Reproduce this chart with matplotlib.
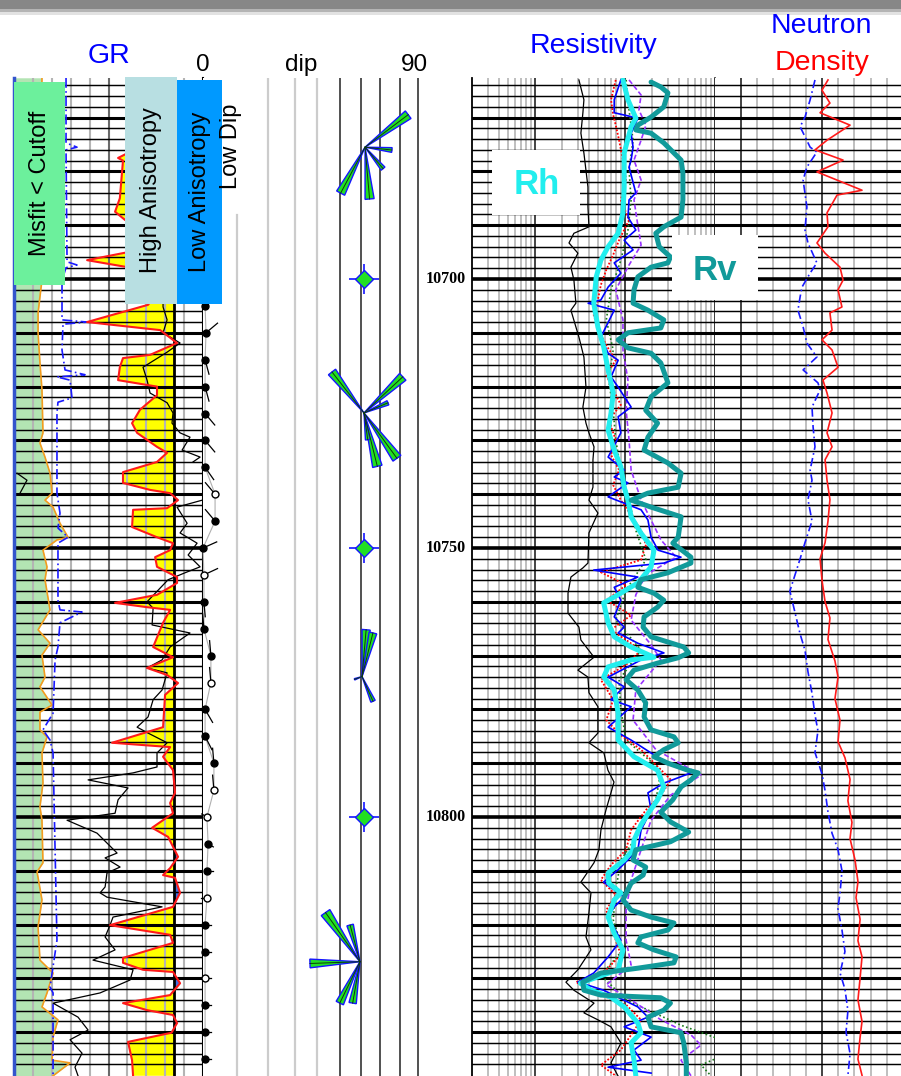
import numpy as np
import matplotlib
matplotlib.use("Agg")
import matplotlib.pyplot as plt
import matplotlib.transforms as mtransforms
from matplotlib.patches import Rectangle, Polygon
from matplotlib.ticker import NullLocator

plt.rcParams['font.family'] = ['Liberation Sans', 'DejaVu Sans']

# ---------------- DATA ----------------
# Track 1 : anisotropy indicator (red curve, yellow/blue fill about cutoff)
aniso_depth = [10662.6, 10668.0, 10674.0, 10677.5, 10678.0, 10685.0, 10687.5, 10689.0, 10692.0, 10694.8,
               10696.5, 10698.0, 10701.0, 10704.8, 10708.0, 10709.5, 10711.9, 10714.1, 10714.7, 10716.4,
               10718.8, 10720.0, 10721.6, 10724.3, 10726.8, 10728.6, 10731.2, 10732.3, 10734.0, 10735.9,
               10737.9, 10739.2, 10739.8, 10741.1, 10742.6, 10742.9, 10746.1, 10748.0, 10749.1, 10750.4,
               10751.7, 10753.5, 10755.4, 10756.5, 10758.7, 10760.2, 10761.0, 10761.5, 10763.9, 10768.4,
               10770.3, 10772.3, 10773.6, 10775.1, 10777.3, 10783.3, 10786.2, 10787.0, 10788.8, 10791.3,
               10795.5, 10797.4, 10799.3, 10802.0, 10803.7, 10807.4, 10809.5, 10810.8, 10811.3, 10814.1,
               10816.7, 10820.1, 10821.9, 10823.4, 10826.2, 10827.1, 10828.4, 10828.8, 10830.9, 10833.1,
               10834.6, 10835.9, 10836.8, 10838.3, 10840.1, 10841.8, 10845.2, 10848.1]
aniso_val = [110, 105, 112, 82.6, 86.5, 84, 80.2, 88, 110, 95,
             58, 95, 118, 106.4, 58, 116, 129.4, 108, 86.5, 84,
             82.6, 113.5, 113.5, 100, 93.7, 97.7, 113.5, 121.5, 113.5, 86.5,
             86.5, 108, 123.9, 130.2, 121.5, 94.5, 93.7, 113.5, 126.2, 123.9,
             112, 113.5, 129.4, 129.4, 113.5, 80.2, 105.6, 123.9, 118.3, 110.4,
             126.2, 105.6, 121.5, 130.2, 119.9, 118.3, 77.8, 123.9, 118.3, 126.2,
             127.8, 123.9, 126.2, 109.6, 122.3, 130.2, 123.9, 118.3, 127.8, 131.8,
             126.2, 76.2, 123.9, 126.2, 86.5, 86.5, 102.4, 126.2, 131.8, 123.9,
             86.5, 105.6, 126.2, 129.4, 125.0, 90.5, 93.7, 94.5]
CUTOFF = 127

# Track 1 : misfit curve (orange, green fill)
misfit_depth = [10662.6, 10685.3, 10700.2, 10703.3, 10706.3, 10710.0, 10715.6, 10720.6, 10728.6, 10730.5,
                10733.1, 10736.1, 10739.8, 10741.1, 10742.4, 10745.4, 10748.0, 10748.5, 10750.4, 10753.5,
                10755.9, 10761.5, 10765.2, 10767.7, 10769.9, 10774.0, 10775.8, 10779.2, 10780.5, 10783.8,
                10785.1, 10788.1, 10793.7, 10798.1, 10800.6, 10808.5, 10810.2, 10815.4, 10820.4, 10826.6,
                10829.0, 10832.7, 10835.3, 10837.7, 10840.9, 10845.2, 10845.7, 10848.1]
misfit_val = [22.2, 21, 22.2, 20.6, 19.1, 19.1, 20.6, 22.2, 23, 20.6,
              24.6, 28.6, 30.2, 24.6, 31, 36.5, 42.9, 34.1, 23, 26.2,
              24.6, 28.6, 19.1, 28.6, 22.2, 24.6, 20.6, 30.2, 20.6, 20.6,
              26.2, 22.2, 23, 20.6, 22.2, 23, 18.3, 22.2, 19.1, 20.6,
              31, 26.2, 22.2, 34.9, 31, 30.2, 44.5, 31]

# Track 1 : blue dash-dot curve
cal_depth = [10662.6, 10674.7, 10675.5, 10676.0, 10696.8, 10697.4, 10697.9, 10700.2, 10707.6, 10708.0,
             10708.4, 10713.2, 10716.9, 10717.8, 10718.2, 10718.8, 10722.1, 10722.9, 10724.9, 10739.8,
             10743.5, 10746.3, 10748.0, 10749.1, 10759.7, 10761.5, 10761.9, 10763.9, 10768.4, 10770.8,
             10780.7, 10783.8, 10785.7, 10788.1, 10822.9, 10831.6, 10832.7, 10848.1]
cal_val = [41.3, 41.3, 50, 41.3, 42.1, 50, 41.3, 38.1, 38.1, 58,
           38.9, 38.1, 40.5, 56.4, 34.1, 44.5, 46, 34.9, 34.1, 34.1,
           36.5, 34.9, 42.9, 34.9, 34.9, 36.5, 54, 36.5, 34.9, 32.6,
           31, 23, 28.6, 31, 34.1, 28.6, 31, 31]

# Track 1 : GR (black, wraps past 150)
gr_depth = [10662.6, 10676.0, 10689.0, 10700.2, 10705.2, 10707.6, 10710.0, 10711.9, 10713.6, 10716.4,
            10718.8, 10721.2, 10723.0, 10724.9, 10726.8, 10728.6, 10729.4, 10731.8, 10733.1, 10734.0,
            10736.1, 10737.4, 10739.8, 10741.1, 10742.4, 10745.4, 10747.2, 10749.1, 10751.3, 10753.5,
            10754.6, 10755.9, 10760.0, 10761.2, 10764.3, 10765.8, 10768.4, 10770.8, 10772.3, 10773.2,
            10776.4, 10778.2, 10781.4, 10783.3, 10784.4, 10786.2, 10788.1, 10790.7, 10791.8, 10793.1,
            10794.6, 10796.8, 10799.3, 10800.6, 10803.0, 10806.7, 10807.6, 10809.3, 10810.4, 10813.0,
            10814.1, 10814.9, 10816.7, 10818.6, 10820.1, 10822.3, 10824.7, 10826.6, 10828.4, 10830.3,
            10832.7, 10834.6, 10837.2, 10839.6, 10841.4, 10843.9, 10846.5, 10848.1]
gr_val = [120, 125, 122, 118.3, 118.3, 121.5, 118.3, 131.8, 121.5, 102.4,
          105.6, 108, 121.5, 126.2, 125.4, 131.8, 139.7, 133.4, 147.7, 142.1,
          152.4, 160.3, 154.8, 149.5, 129.4, 137.4, 131.8, 145.3, 138.2, 147.7,
          135.8, 122.3, 105.6, 110.4, 109.6, 139.7, 123.9, 117.5, 105.6, 121.5,
          117.5, 110.4, 106.4, 97.7, 106.4, 121.5, 113.5, 113.5, 94.5, 58.8,
          90.5, 82.6, 80.2, 42.1, 65.9, 81.8, 72.3, 84.2, 73.8, 72.3,
          68.3, 73.8, 117.5, 78.6, 76.2, 72.3, 80.2, 62.7, 94.5, 92.1,
          68.3, 31, 50.8, 58.8, 44.5, 54, 48.4, 50.8]

# Dip track : tadpoles
tad_depth = [10705, 10710, 10715, 10720, 10725, 10730, 10735, 10740, 10745, 10750,
             10755, 10760, 10765, 10770, 10775, 10780, 10785, 10790, 10795, 10800,
             10805, 10810, 10815, 10820, 10825, 10830, 10835, 10840, 10845]
tad_dip = [0.9, 1.3, 0.9, 0.9, 0.9, 0.9, 0.9, 5.2, 5.2, 0.0,
           0.4, 0.4, 0.4, 3.4, 3.4, 0.9, 0.9, 4.7, 4.7, 1.7,
           2.2, 1.7, 1.7, 0.9, 0.9, 0.9, 0.9, 0.9, 0.9]
tad_azi = [40, 50, 165, 165, 140, 140, 145, 320, 320, 66,
           65, 175, 355, 355, 355, 150, 153, 355, 355, 300,
           120, 90, 270, 90, 90, 90, 90, 90, 90]
tad_open = [0, 0, 0, 0, 0, 0, 0, 1, 0, 0,
            1, 0, 0, 0, 1, 0, 0, 0, 1, 1,
            0, 0, 1, 0, 0, 1, 0, 0, 0]

# Dip track : rose diagrams (azimuth, petal size)
rose_depth = [10675.5, 10724.9, 10773.9, 10826.9]
rose_dip = [69.8, 69.35, 68.5, 67.6]
rose1_azi = [53, 96, 140, 175, 208]
rose1_len = [54, 27, 28, 52, 52]
rose2_azi = [322, 47, 67, 144, 166, 172]
rose2_len = [52, 53, 26, 56, 55, 27]
rose3_azi = [5, 14, 156, 250]
rose3_len = [47, 45, 27, 8]
rose4_azi = [325, 345, 268, 206, 190]
rose4_len = [60, 38, 50, 46, 42]
diamond_depth = [10700, 10750, 10800]
diamond_dip = 69.35
depth_labels = [10700, 10750, 10800]

# Track 3 : resistivity
rh_depth = [10663.0, 10666.7, 10670.1, 10671.7, 10676.6, 10682.9, 10687.7, 10691.5, 10694.0, 10696.5,
            10699.6, 10704.5, 10708.9, 10712.6, 10716.9, 10721.2, 10724.9, 10728.1, 10731.8, 10734.9,
            10738.7, 10741.1, 10744.2, 10747.2, 10750.4, 10753.5, 10756.5, 10759.1, 10760.2, 10763.9,
            10766.5, 10768.4, 10770.3, 10770.8, 10772.1, 10774.0, 10776.4, 10780.7, 10785.7, 10788.8,
            10791.3, 10794.4, 10796.8, 10799.1, 10801.5, 10804.3, 10806.1, 10808.0, 10810.4, 10812.3,
            10814.1, 10815.4, 10818.6, 10821.6, 10824.7, 10828.4, 10829.7, 10830.9, 10832.2, 10833.5,
            10835.3, 10838.3, 10840.1, 10842.0, 10845.2, 10848.1]
rh_val = [9.5, 10.8, 13.2, 11.7, 9.8, 9.8, 9.5, 8.4, 6.5, 5.4,
          4.8, 4.5, 5.0, 5.8, 6.5, 7.4, 7.0, 6.5, 7.6, 9.0,
          9.8, 10.8, 11.7, 15, 21, 19.5, 13.9, 7.6, 5.8, 6.5,
          7.6, 11.7, 21, 11.7, 6.5, 5.8, 7.6, 8.4, 8.4, 12.6,
          23, 27, 23, 18.5, 15, 12.6, 12.3, 9.8, 6.5, 6.6,
          9.0, 7.6, 6.5, 7.6, 9.5, 8.4, 5.0, 3.2, 4.2, 7.0,
          9.8, 13.9, 15, 11.7, 12.6, 13.2]

rv_depth = [10663.4, 10664.3, 10665.4, 10668.0, 10669.9, 10671.4, 10672.3, 10672.9, 10674.7, 10677.9,
            10680.3, 10685.3, 10688.5, 10690.3, 10691.5, 10694.0, 10695.9, 10697.0, 10697.8, 10699.6,
            10702.0, 10704.5, 10705.8, 10707.6, 10709.1, 10710.0, 10711.3, 10712.8, 10713.8, 10715.6,
            10719.3, 10721.9, 10724.4, 10726.8, 10729.4, 10731.8, 10734.2, 10736.1, 10738.7, 10739.8,
            10741.1, 10742.4, 10744.2, 10748.0, 10749.1, 10751.7, 10752.8, 10754.6, 10755.9, 10757.3,
            10758.4, 10759.7, 10761.0, 10762.8, 10764.7, 10766.5, 10768.4, 10769.5, 10770.4, 10771.4,
            10772.7, 10774.5, 10776.4, 10778.8, 10781.4, 10783.8, 10785.1, 10786.2, 10787.5, 10788.8,
            10790.0, 10791.3, 10791.8, 10793.1, 10794.4, 10796.8, 10799.1, 10800.9, 10802.8, 10804.6,
            10806.1, 10808.0, 10809.3, 10810.8, 10812.3, 10815.4, 10817.3, 10818.6, 10819.7, 10821.0,
            10822.3, 10823.4, 10824.7, 10826.0, 10827.1, 10828.1, 10829.0, 10830.7, 10832.2, 10833.1,
            10833.6, 10834.6, 10835.9, 10837.2, 10839.0, 10840.1, 10842.0, 10845.7, 10848.1]
rv_val = [19.5, 25, 30, 27, 19.5, 13.9, 13.2, 19.5, 27, 42,
          44, 44, 42, 27, 22, 24, 32, 30, 19.5, 13.9,
          12.6, 12.3, 18, 27, 25, 10.8, 8.4, 10.8, 19.5, 25,
          30, 19.5, 17, 23, 18, 16.3, 30, 42, 39, 18,
          11.7, 19.5, 42, 39, 34, 54, 54, 30, 15, 13.9,
          21, 27, 23, 16.3, 15.9, 19.5, 45, 51, 39, 23,
          12.6, 10.3, 13.9, 17, 16.3, 19.5, 35, 39, 27, 21,
          30, 50, 65, 54, 42, 34, 25, 32, 51, 32,
          13.2, 12.3, 17, 15.9, 11.7, 9.5, 11.7, 19.5, 35, 30,
          15, 13.9, 21, 37, 35, 13.9, 5.4, 3.4, 3.5, 5.4,
          25, 32, 27, 18, 19.5, 42, 45, 48, 48]

rsh_depth = [10663.0, 10666.7, 10669.1, 10672.9, 10676.6, 10682.9, 10686.6, 10690.3, 10691.5, 10693.3,
             10695.2, 10697.8, 10700.2, 10704.5, 10705.8, 10710.8, 10714.5, 10720.1, 10723.8, 10726.8,
             10728.6, 10731.2, 10733.6, 10738.7, 10741.1, 10743.5, 10747.2, 10752.8, 10753.7, 10755.4,
             10758.4, 10762.1, 10764.7, 10767.1, 10770.3, 10772.7, 10774.0, 10776.9, 10779.5, 10784.4,
             10786.2, 10788.1, 10791.3, 10793.5, 10795.5, 10798.7, 10802.4, 10806.1, 10808.5, 10812.1,
             10814.1, 10817.8, 10822.3, 10824.7, 10828.4, 10830.7, 10832.2, 10834.6, 10836.4, 10837.7,
             10839.0, 10842.0, 10845.7, 10848.1]
rsh_val = [3.08, 3.50, 3.41, 3.24, 3.50, 3.88, 3.88, 3.98, 2.71, 2.39,
           3.0, 2.51, 2.71, 2.85, 2.51, 3.08, 3.50, 3.69, 3.41, 3.69,
           3.98, 4.53, 4.41, 4.41, 3.98, 5.01, 3.98, 3.88, 3.41, 2.51,
           2.33, 2.33, 3.08, 3.24, 4.53, 3.0, 3.88, 3.98, 5.01, 5.01,
           3.98, 5.84, 6.47, 7.55, 6.99, 6.15, 5.41, 5.14, 4.53, 3.24,
           4.19, 3.98, 3.69, 4.19, 3.0, 2.21, 2.71, 4.53, 3.50, 5.01,
           6.99, 9.03, 6.99, 8.36]

rblue_depth = [10663.0, 10666.7, 10669.1, 10670.1, 10672.9, 10675.5, 10677.9, 10679.2, 10684.0, 10685.3,
               10688.5, 10690.9, 10692.8, 10694.6, 10697.0, 10698.9, 10701.5, 10703.9, 10704.5, 10705.8,
               10710.8, 10713.8, 10715.1, 10718.2, 10720.1, 10723.8, 10725.6, 10728.6, 10733.1, 10735.5,
               10736.8, 10737.9, 10740.5, 10742.9, 10744.8, 10748.0, 10750.4, 10751.7, 10752.8, 10754.1,
               10755.4, 10757.3, 10759.7, 10762.8, 10764.7, 10765.8, 10767.7, 10769.5, 10770.8, 10774.0,
               10775.8, 10778.2, 10779.5, 10783.3, 10785.7, 10788.1, 10790.0, 10791.8, 10793.7, 10795.5,
               10798.7, 10802.4, 10806.1, 10809.8, 10812.1, 10814.9, 10816.7, 10818.6, 10822.9, 10826.0,
               10829.0, 10830.7, 10831.6, 10832.2, 10835.3, 10837.2, 10839.0, 10840.9, 10843.3, 10845.2,
               10846.5, 10847.6]
rblue_val = [9.0, 7.6, 7.6, 13.9, 11.7, 12.3, 11.7, 11.1, 13.2, 11.1,
             10.8, 13.2, 9.8, 12.3, 7.6, 9.0, 6.5, 5.4, 3.9, 7.6,
             5.4, 6.5, 8.4, 7.0, 8.4, 11.7, 8.4, 9.0, 6.5, 9.8,
             7.6, 10.8, 6.5, 15.1, 18, 19.5, 23.3, 41.9, 27.1, 4.5,
             13.9, 7.6, 9.0, 7.6, 9.8, 8.4, 13.9, 27.1, 15.1, 6.5,
             9.8, 7.0, 11.7, 6.5, 11.7, 19.5, 30.1, 54.1, 27.1, 18,
             19.5, 15.1, 13.9, 8.4, 5.8, 9.8, 7.6, 6.5, 9.0, 6.5,
             4.5, 3.0, 4.5, 5.8, 13.9, 18, 9.8, 19.5, 12.6, 15.1,
             6.5, 19.5]

rred_depth = [10663.0, 10666.7, 10669.5, 10671.4, 10674.2, 10677.9, 10681.6, 10685.3, 10689.0, 10692.8,
              10695.5, 10698.3, 10701.1, 10703.9, 10706.7, 10709.5, 10712.3, 10715.1, 10717.8, 10720.6,
              10723.4, 10726.2, 10729.9, 10732.7, 10735.5, 10738.3, 10741.1, 10743.9, 10746.7, 10749.4,
              10752.2, 10754.5, 10756.9, 10759.7, 10762.5, 10765.2, 10769.0, 10771.7, 10774.5, 10778.2,
              10782.0, 10784.8, 10787.5, 10790.3, 10793.1, 10795.9, 10798.7, 10802.4, 10806.1, 10808.9,
              10811.7, 10814.5, 10817.3, 10820.1, 10822.9, 10825.6, 10828.4, 10830.7, 10833.1, 10834.9,
              10837.7, 10840.5, 10843.3, 10846.1, 10848.1]
rred_val = [7.9, 7.0, 7.4, 7.9, 8.6, 9.5, 10.3, 9.0, 11.1, 8.6,
            7.4, 6.2, 5.4, 5.0, 4.5, 5.1, 6.2, 7.9, 6.2, 7.4,
            9.0, 6.6, 7.9, 7.0, 8.6, 7.4, 9.0, 11.7, 15.1, 17.1,
            15.1, 5.4, 10.3, 6.2, 11.7, 7.0, 15.1, 10.3, 5.4, 7.4,
            6.2, 9.0, 15.1, 22.1, 32.4, 25.1, 17.1, 11.7, 10.3, 7.0,
            5.4, 7.9, 6.2, 7.0, 7.9, 9.0, 6.2, 2.85, 5.4, 10.3,
            15.1, 11.7, 9.0, 5.4, 7.9]

rpur_depth = [10663.0, 10665.8, 10668.6, 10671.4, 10674.2, 10677.9, 10681.6, 10685.3, 10689.0, 10693.7,
              10697.4, 10702.0, 10707.6, 10713.2, 10718.8, 10724.4, 10729.9, 10735.5, 10741.1, 10744.8,
              10748.5, 10751.7, 10755.0, 10758.7, 10763.4, 10768.0, 10770.8, 10776.4, 10782.0, 10787.5,
              10792.2, 10795.9, 10800.6, 10806.1, 10811.7, 10817.3, 10822.9, 10827.5, 10831.2, 10834.0,
              10837.7, 10840.5, 10842.4, 10845.2, 10848.1]
rpur_val = [11.1, 15.1, 14.3, 17.1, 15.1, 12.6, 15.1, 12.6, 13.6, 15.1,
            11.1, 7.9, 9.5, 9.5, 10.8, 10.3, 11.1, 11.7, 15.1, 19.5,
            25.1, 36.9, 17.1, 13.2, 11.7, 19.5, 25.1, 13.2, 12.3, 22.1,
            69.9, 32.4, 19.5, 15.1, 11.7, 10.3, 10.3, 11.7, 6.2, 11.7,
            25.1, 54.1, 69.9, 41.9, 54.1]

rgrn_depth = [10663.0, 10668.6, 10674.2, 10679.7, 10685.3, 10690.9, 10696.5, 10702.0, 10707.6, 10713.2,
              10718.8, 10724.4, 10729.9, 10735.5, 10741.1, 10746.7, 10752.2, 10757.8, 10763.4, 10769.0,
              10774.5, 10780.1, 10785.7, 10791.3, 10796.8, 10802.4, 10808.0, 10813.6, 10819.1, 10824.7,
              10829.4, 10834.0, 10838.7, 10841.4, 10843.3, 10846.1, 10848.1]
rgrn_val = [10.3, 11.1, 12.3, 11.1, 11.7, 10.8, 9.0, 7.0, 6.2, 7.4,
            6.6, 7.4, 7.9, 9.0, 11.1, 13.2, 17.1, 10.3, 7.9, 15.1,
            8.6, 9.0, 10.3, 25.1, 22.1, 15.1, 9.0, 7.9, 7.4, 9.5,
            5.4, 10.3, 41.9, 116.6, 171, 69.9, 90.3]

# Track 4 : neutron / density
nphi_depth = [10663.0, 10666.7, 10669.9, 10671.7, 10675.5, 10676.4, 10679.2, 10681.6, 10686.6, 10690.9,
              10693.3, 10697.0, 10698.9, 10701.5, 10703.3, 10705.8, 10708.9, 10711.9, 10714.5, 10716.9,
              10719.3, 10720.6, 10723.8, 10727.5, 10731.2, 10735.5, 10737.4,
              10741, 10745, 10749, 10752, 10755, 10758, 10762, 10766, 10769, 10773,
              10777, 10781, 10784, 10788, 10792, 10795, 10799, 10803, 10806, 10810,
              10814, 10817, 10821, 10825, 10829, 10832, 10836, 10840, 10844, 10848]
nphi_val = [0.176, 0.194, 0.213, 0.231, 0.194, 0.169, 0.206, 0.220, 0.206, 0.213,
            0.202, 0.169, 0.194, 0.224, 0.231, 0.239, 0.220, 0.206, 0.169, 0.220,
            0.165, 0.157, 0.187, 0.183, 0.176, 0.194, 0.187,
            0.202, 0.187, 0.213, 0.231, 0.250, 0.269, 0.250, 0.231, 0.213, 0.202,
            0.187, 0.176, 0.165, 0.176, 0.150, 0.139, 0.128, 0.113, 0.091, 0.076,
            0.083, 0.091, 0.076, 0.065, 0.083, 0.065, 0.054, 0.061, 0.046, 0.054]

rhob_depth = [10663.0, 10664.9, 10667.3, 10669.1, 10671.4, 10674.2, 10676.0, 10677.9, 10680.1, 10683.5,
              10684.4, 10687.7, 10690.3, 10693.3, 10695.2, 10697.8, 10700.2, 10702.0, 10705.2, 10706.3,
              10709.5, 10711.3, 10713.2, 10716.4, 10718.8, 10721.2, 10724.9, 10728.6, 10731.2, 10733.6,
              10737.4,
              10741, 10745, 10749, 10752, 10756, 10760, 10763, 10767, 10771, 10774,
              10778, 10782, 10786, 10789, 10793, 10797, 10801, 10804, 10808, 10812,
              10815, 10819, 10823, 10826, 10830, 10834, 10838, 10841, 10845, 10848]
rhob_val = [2.487, 2.450, 2.499, 2.438, 2.623, 2.481, 2.407, 2.580, 2.419, 2.697,
            2.543, 2.481, 2.487, 2.419, 2.469, 2.561, 2.580, 2.549, 2.573, 2.499,
            2.512, 2.450, 2.512, 2.549, 2.456, 2.481, 2.512, 2.481, 2.512, 2.469,
            2.481,
            2.499, 2.487, 2.469, 2.438, 2.450, 2.469, 2.499, 2.487, 2.530, 2.549,
            2.530, 2.561, 2.549, 2.592, 2.623, 2.610, 2.635, 2.623, 2.654, 2.672,
            2.660, 2.685, 2.672, 2.697, 2.685, 2.672, 2.697, 2.685, 2.672, 2.697]

# ---------------- FIGURE ----------------
W, H = 901, 1076
fig = plt.figure(figsize=(W / 100, H / 100), dpi=100, facecolor='white')
TOP_PX = 78
D_TOP, D_BOT = 10662.64, 10848.14


def fx(p):
    return p / W


def fy(p):
    return 1 - p / H


def track(x0, x1):
    ax = fig.add_axes([fx(x0), 0, (x1 - x0) / W, (H - TOP_PX) / H])
    for s in ax.spines.values():
        s.set_visible(False)
    return ax


def no_ticks(ax):
    ax.xaxis.set_major_locator(NullLocator())
    ax.xaxis.set_minor_locator(NullLocator())
    ax.yaxis.set_major_locator(NullLocator())
    ax.yaxis.set_minor_locator(NullLocator())
    ax.tick_params(which='both', bottom=False, top=False, left=False, right=False,
                   labelbottom=False, labeltop=False, labelleft=False, labelright=False)


def depth_grid(ax):
    for d in np.arange(10664, 10848, 2):
        if d % 50 == 0:
            lw = 2.6
        elif d % 10 == 0:
            lw = 2.2
        else:
            lw = 1.05
        ax.axhline(d, color='black', lw=lw, zorder=2)


# top grey bar
fig.add_artist(Rectangle((0, fy(9)), 1, 9 / H, transform=fig.transFigure, fc='#878787', ec='none'))
fig.add_artist(Rectangle((0, fy(12)), 1, 3 / H, transform=fig.transFigure, fc='#b4b4b4', ec='none'))
fig.add_artist(Rectangle((0, fy(15)), 1, 3 / H, transform=fig.transFigure, fc='#e2e2e2', ec='none'))

# ---- Track 1
ax1 = track(14, 203)
ad = np.array(aniso_depth)
av = np.array(aniso_val)
ax1.fill_betweenx(misfit_depth, 0, misfit_val, color='#b3e4b3', lw=0, zorder=1)
ax1.fill_betweenx(ad, av, CUTOFF, where=av <= CUTOFF, interpolate=True, color='#ffff00', lw=0, zorder=1)
ax1.fill_betweenx(ad, av, CUTOFF, where=av >= CUTOFF, interpolate=True, color='#3f6ee0', lw=0, zorder=1)
for v in np.arange(15, 150, 15):
    ax1.axvline(v, color='#6a6a6a' if v == 75 else '#b4b4b4', lw=1.5, zorder=1.5)
depth_grid(ax1)
ax1.axvline(CUTOFF, color='black', lw=2.0, zorder=2.5)
ax1.plot(misfit_val, misfit_depth, color='#f39c1e', lw=1.2, zorder=3)
ax1.plot(cal_val, cal_depth, color='#1a1aff', lw=1.2, ls=(0, (6, 2, 1, 2)), zorder=3)
gr = np.array(gr_val)
ax1.plot(np.where(gr <= 150, gr, np.nan), gr_depth, color='black', lw=0.9, zorder=3)
ax1.plot(np.where(gr > 150, gr - 150, np.nan), gr_depth, color='black', lw=0.9, zorder=3)
ax1.plot(av, ad, color='#ff1a1a', lw=1.5, zorder=3.5, solid_joinstyle='round')
ax1.spines['left'].set_visible(True)
ax1.spines['left'].set_color('#3355cc')
ax1.spines['left'].set_linewidth(2.5)
ax1.spines['right'].set_visible(True)
ax1.spines['right'].set_linewidth(1.5)
ax1.set_xlim(0, 150)
ax1.set_ylim(D_BOT, D_TOP)
no_ticks(ax1)

# ---- Dip track
axd = track(203, 470)
dip_grid_gray = [28.0, 39.6, 49.1]
dip_grid_black = [59.0, 68.05, 76.2, 84.9, 92.6]
for v in dip_grid_gray:
    axd.axvline(v, color='#cccccc', lw=1.6, zorder=1)
axd.plot([14.6, 14.6], [10688.1, D_BOT], color='#cccccc', lw=1.6, zorder=1)
for v in dip_grid_black:
    axd.axvline(v, color='#222222', lw=1.1, zorder=1)


def anchor(ax, x, y):
    return fig.dpi_scale_trans + mtransforms.ScaledTranslation(x, y, ax.transData)


# tadpoles
axd.plot(tad_dip, tad_depth, color='#b0b0b0', lw=0.8, zorder=2, clip_on=False)
for d, dp, az, op in zip(tad_depth, tad_dip, tad_azi, tad_open):
    tr = anchor(axd, dp, d)
    t = np.deg2rad(az)
    tail = 0.15 if d < 10800 else 0.06
    axd.plot([0, tail * np.sin(t)], [0, tail * np.cos(t)], transform=tr, color='black', lw=0.9,
             zorder=3, clip_on=False)
    axd.plot(dp, d, 'o', ms=5, mfc='white' if op else 'black', mec='black', mew=1.0,
             zorder=4, clip_on=False)

# roses
roses = [(rose1_azi, rose1_len), (rose2_azi, rose2_len), (rose3_azi, rose3_len), (rose4_azi, rose4_len)]
for (azs, lens), rd, rdp in zip(roses, rose_depth, rose_dip):
    tr = anchor(axd, rdp, rd)
    for az, n in zip(azs, lens):
        t = np.deg2rad(az)
        L = n / 100.0
        ux, uy = np.sin(t), np.cos(t)
        px_, py_ = np.cos(t), -np.sin(t)
        w = L * np.tan(np.deg2rad(5))
        verts = [(0, 0), (L * ux + w * px_, L * uy + w * py_), (L * ux - w * px_, L * uy - w * py_)]
        axd.add_patch(Polygon(verts, closed=True, transform=tr, fc='#22e022', ec='#1414ff',
                              lw=1.0, zorder=4, clip_on=False))
        axd.plot([0, L * ux], [0, L * uy], transform=tr, color='#0a3a0a', lw=0.7, zorder=5)

for d in diamond_depth:
    axd.plot(diamond_dip, d, marker='+', ms=22, mec='#1414ff', mew=1.2, zorder=5)
    axd.plot(diamond_dip, d, marker='D', ms=9, mfc='#22e022', mec='#1414ff', mew=1.0, zorder=6)

for d in depth_labels:
    axd.text(104.4, d, str(d), fontsize=11.5, fontweight='bold', family='Liberation Serif',
             ha='center', va='center', zorder=6)
axd.set_xlim(0, 115)
axd.set_ylim(D_BOT, D_TOP)
no_ticks(axd)

# ---- Track 3 : resistivity
ax3 = track(472, 715)
ax3.set_xscale('log')
for base in [0.1, 1, 10]:
    for k in range(2, 10):
        v = k * base
        if 0.2 < v < 100:
            ax3.axvline(v, color='#b4b4b4', lw=1.2, zorder=1)
for v in [1, 10]:
    ax3.axvline(v, color='#111111', lw=1.1, zorder=1.5)
depth_grid(ax3)
ax3.plot(rsh_val, rsh_depth, color='black', lw=0.9, zorder=3)
ax3.plot(rgrn_val, rgrn_depth, color='#1a7a1a', lw=1.2, ls=(0, (1, 1.5)), zorder=3)
ax3.plot(rpur_val, rpur_depth, color='#9933ff', lw=1.2, ls=(0, (3, 1.5)), zorder=3)
ax3.plot(rred_val, rred_depth, color='#ff0000', lw=1.3, ls=(0, (1, 1)), zorder=3)
ax3.plot(rblue_val, rblue_depth, color='#0000ff', lw=1.2, zorder=3)
ax3.plot(rh_val, rh_depth, color='#22eeee', lw=3.6, zorder=4, solid_capstyle='round',
         solid_joinstyle='round')
ax3.plot(rv_val, rv_depth, color='#119a9a', lw=3.6, zorder=4.5, solid_capstyle='round',
         solid_joinstyle='round')
ax3.spines['left'].set_visible(True)
ax3.spines['left'].set_linewidth(1.3)
ax3.spines['right'].set_visible(True)
ax3.spines['right'].set_linewidth(1.1)
ax3.set_xlim(0.2, 100)
ax3.set_ylim(D_BOT, D_TOP)
no_ticks(ax3)

# ---- Track 4 : neutron / density
ax4 = track(715, 901)
depth_grid(ax4)
for k in range(10):
    ax4.axvline(0.45 - 0.06 * k, color='#111111' if k in (0, 5) else '#b4b4b4',
                lw=1.1 if k in (0, 5) else 1.2, zorder=1.5)
ax4.plot(nphi_val, nphi_depth, color='#1a1aff', lw=1.2, ls=(0, (5, 2, 1, 2)), zorder=3)
ax4.set_xlim(0.5463, -0.1426)
ax4.set_ylim(D_BOT, D_TOP)
no_ticks(ax4)
ax4b = ax4.twiny()
for s in ax4b.spines.values():
    s.set_visible(False)
ax4b.plot(rhob_val, rhob_depth, color='#ff1a1a', lw=1.2, zorder=3)
ax4b.set_xlim(1.7895, 2.9377)
ax4b.set_ylim(D_BOT, D_TOP)
no_ticks(ax4b)


# ---- Text boxes and headers
def box(x0, y0, x1, y1, color):
    fig.add_artist(Rectangle((fx(x0), fy(y1)), (x1 - x0) / W, (y1 - y0) / H,
                             transform=fig.transFigure, fc=color, ec='none', zorder=10))


box(14, 82, 65, 285, '#6cf09c')
fig.text(fx(40), fy(183), 'Misfit < Cutoff', rotation=90, ha='center', va='center', fontsize=17, zorder=11)
box(125, 77, 177, 304, '#b8dfe2')
fig.text(fx(151), fy(190), 'High Anisotropy', rotation=90, ha='center', va='center', fontsize=17, zorder=11)
box(177, 80, 222, 304, '#0099ff')
fig.text(fx(200), fy(192), 'Low Anisotropy', rotation=90, ha='center', va='center', fontsize=17, zorder=11)
fig.text(fx(231), fy(146), 'Low Dip', rotation=90, ha='center', va='center', fontsize=17, zorder=11)

box(492, 150, 580, 215, 'white')
fig.text(fx(537), fy(184), 'Rh', ha='center', va='center', fontsize=25, fontweight='bold',
         color='#22eeee', zorder=11)
box(672, 235, 758, 300, 'white')
fig.text(fx(715), fy(270), 'Rv', ha='center', va='center', fontsize=25, fontweight='bold',
         color='#119a9a', zorder=11)

fig.text(fx(109), fy(63), 'GR', ha='center', va='baseline', fontsize=20.5, color='#0000ff')
fig.text(fx(203), fy(71), '0', ha='center', va='baseline', fontsize=17.5, color='black')
fig.text(fx(301), fy(71), 'dip', ha='center', va='baseline', fontsize=17.5, color='black')
fig.text(fx(414), fy(71), '90', ha='center', va='baseline', fontsize=17.5, color='black')
fig.text(fx(594), fy(53), 'Resistivity', ha='center', va='baseline', fontsize=20.5, color='#0000ff')
fig.text(fx(821), fy(33), 'Neutron', ha='center', va='baseline', fontsize=20.5, color='#0000ff')
fig.text(fx(822), fy(70), 'Density', ha='center', va='baseline', fontsize=20.5, color='#ff0000')

fig.savefig('out.png', dpi=100, facecolor='white')
